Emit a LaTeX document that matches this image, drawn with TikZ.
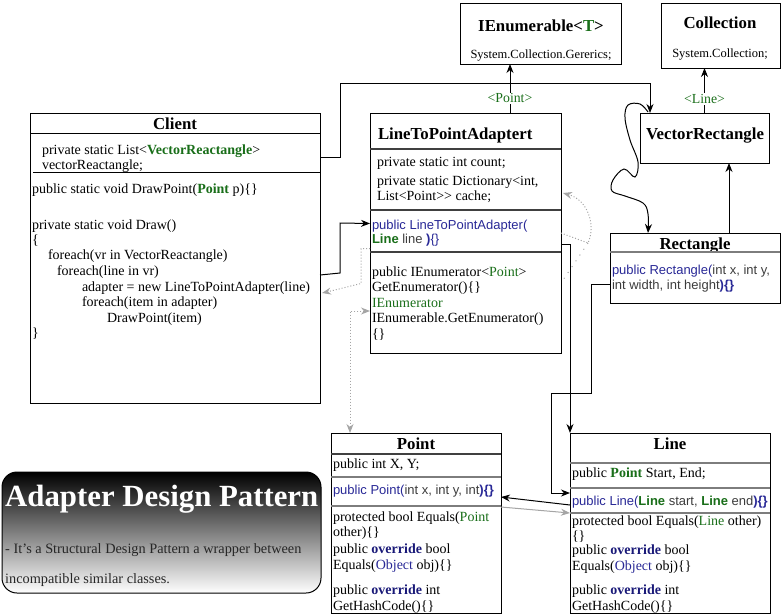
\documentclass[tikz,border=0pt]{standalone}
\usepackage{fontspec}
\setmainfont{Liberation Serif}
\newfontfamily\sansf{Liberation Sans}
\usetikzlibrary{arrows.meta,calc}
\definecolor{gr}{RGB}{25,110,25}
\definecolor{bl}{RGB}{40,40,150}
\definecolor{ov}{RGB}{25,25,120}
\definecolor{pg}{RGB}{60,60,60}
\definecolor{sepc}{RGB}{125,125,125}
\definecolor{lg}{RGB}{165,165,165}
\newcommand\gbf[1]{\textcolor{gr}{\textbf{#1}}}
\newcommand\grn[1]{\textcolor{gr}{#1}}
\newcommand\ovr{\textcolor{ov}{\textbf{override}}}
\newcommand\blu[1]{\textcolor{bl}{#1}}
\begin{document}
\begin{tikzpicture}[x=1pt,y=-1pt,
 box/.style={draw, line width=1pt, anchor=north west, inner sep=0pt, outer sep=0pt},
 tx/.style={anchor=base west, inner sep=0pt, outer sep=0pt, font=\fontsize{14}{16}\selectfont},
 sx/.style={anchor=base west, inner sep=0pt, outer sep=0pt, font=\sansf\fontsize{13}{15}\selectfont, text=pg},
 ttl/.style={anchor=base, inner sep=0pt, outer sep=0pt, font=\bfseries\fontsize{16.8}{19}\selectfont},
 sep/.style={line width=1pt},
 dsep/.style={line width=1.5pt, draw=black!75},
 gsep/.style={line width=2pt, draw=sepc},
 arr/.style={draw, line width=1pt, -{Stealth[length=9pt,width=7pt]}},
 garr/.style={draw=lg, line width=1pt, dotted, -{Stealth[length=9pt,width=7pt]}},
 lbl/.style={fill=white, inner sep=1pt, text=gr, font=\fontsize{13.8}{16}\selectfont}
]
\path[use as bounding box] (0,0) rectangle (782,614);

% boxes
\node[box, minimum width=290pt, minimum height=290pt] (client) at (30,113) {};
\node[box, minimum width=191pt, minimum height=240pt] (ad) at (370,113) {};
\node[box, minimum width=161pt, minimum height=61pt] (ienum) at (460,3) {};
\node[box, minimum width=119pt, minimum height=65pt] (coll) at (661,3) {};
\node[box, minimum width=129pt, minimum height=50pt] (vr) at (640,113) {};
\node[box, minimum width=170pt, minimum height=70pt] (rect) at (610,233) {};
\node[box, minimum width=170pt, minimum height=180pt] (point) at (331,433) {};
\node[box, minimum width=200pt, minimum height=180pt] (line) at (570,433) {};
\node[box, rounded corners=15pt, top color=black, bottom color=white, minimum width=319pt, minimum height=121pt] (note) at (2,472) {};

% Client
\node[ttl] (clientT) at (175,129) {Client};
\draw[sep] (30,133) -- (320,133);
\node[tx] (c1) at (42,154) {private static List<\gbf{VectorReactangle}>};
\node[tx] (c2) at (42,169) {vectorReactangle;};
\draw[sep] (33,172) -- (320,172);
\node[tx] (c3) at (32,193) {public static void DrawPoint(\gbf{Point} p)\{\}};
\node[tx] (c4) at (32,229) {private static void Draw()};
\node[tx] (c5) at (32,244) {\{};
\node[tx] (c6) at (48,259) {foreach(vr in VectorReactangle)};
\node[tx] (c7) at (57,275) {foreach(line in vr)};
\node[tx] (c8) at (82,291) {adapter = new LineToPointAdapter(line)};
\node[tx] (c9) at (82,306) {foreach(item in adapter)};
\node[tx] (c10) at (107,322) {DrawPoint(item)};
\node[tx] (c11) at (32,337) {\}};

% Adapter
\node[ttl, anchor=base west] (adT) at (378,139) {LineToPointAdaptert};
\draw[dsep] (370,149) -- (561,149);
\node[tx] (a1) at (377,166) {private static int count;};
\node[tx] (a2) at (377,185) {private static Dictionary<int,};
\node[tx] (a3) at (377,200) {List<Point>{}> cache;};
\draw[dsep] (370,210) -- (561,210);
\node[sx, text=bl] (a4) at (372,229) {public LineToPointAdapter(};
\node[sx] (a5) at (372,243) {\textcolor{gr}{\textbf{Line}} line \textcolor{bl}{\textbf{)}\{\}}};
\draw[dsep] (370,252) -- (561,252);
\node[tx] (a6) at (372,276) {public IEnumerator<\grn{Point}>};
\node[tx] (a7) at (372,291) {GetEnumerator()\{\}};
\node[tx] (a8) at (372,307) {\grn{IEnumerator}};
\node[tx] (a9) at (372,322) {IEnumerable.GetEnumerator()};
\node[tx] (a10) at (372,338) {\{\}};

% IEnumerable / Collection
\node[ttl] (ieT) at (541,31) {IEnumerable<\textcolor{gr}{T}>};
\node[tx, anchor=base, font=\fontsize{12.5}{14}\selectfont] (ie2) at (541,58) {System.Collection.Gererics;};
\node[ttl] (coT) at (720,28) {Collection};
\node[tx, anchor=base, font=\fontsize{12.5}{14}\selectfont] (co2) at (720,57) {System.Collection;};

% VectorRectangle / Rectangle
\node[ttl] (vrT) at (705,139) {VectorRectangle};
\node[ttl] (rT) at (695,249) {Rectangle};
\draw[gsep] (610,252) -- (780,252);
\node[sx, text=bl] (r1) at (612,274) {public Rectangle(\textcolor{pg}{int x, int y,}};
\node[sx] (r2) at (612,289) {int width, int height\textcolor{bl}{\textbf{)\{\}}}};

% Point
\node[ttl] (pT) at (416,449) {Point};
\draw[dsep] (331,454) -- (501,454);
\node[tx] (p1) at (333,468) {public int X, Y;};
\draw[gsep] (331,477) -- (501,477);
\node[sx, text=bl] (p2) at (333,494) {public Point(\textcolor{pg}{int x, int y, int}\textbf{)\{\}}};
\draw[gsep] (331,506) -- (501,506);
\node[tx] (p3) at (333,521) {protected bool Equals(\grn{Point}};
\node[tx] (p4) at (333,536) {other)\{\}};
\node[tx] (p5) at (333,553) {public \ovr\ bool};
\node[tx] (p6) at (333,569) {Equals(\blu{Object} obj)\{\}};
\node[tx] (p7) at (333,594) {public \ovr\ int};
\node[tx] (p8) at (333,610) {GetHashCode()\{\}};

% Line
\node[ttl] (lT) at (670,449) {Line};
\draw[gsep] (570,463) -- (770,463);
\node[tx] (l1) at (572,477) {public \gbf{Point} Start, End;};
\draw[gsep] (570,488) -- (770,488);
\node[sx, text=bl] (l2) at (572,505) {public Line(\textcolor{gr}{\textbf{Line}} \textcolor{pg}{start,} \textcolor{gr}{\textbf{Line}} \textcolor{pg}{end}\textbf{)\{\}}};
\draw[gsep] (570,513) -- (770,513);
\node[tx] (l3) at (572,525) {protected bool Equals(\grn{Line} other)};
\node[tx] (l4) at (572,540) {\{\}};
\node[tx] (l5) at (572,554) {public \ovr\ bool};
\node[tx] (l6) at (572,570) {Equals(\blu{Object} obj)\{\}};
\node[tx] (l7) at (572,594) {public \ovr\ int};
\node[tx] (l8) at (572,610) {GetHashCode()\{\}};

% Note text
\node[anchor=base west, inner sep=0pt, text=white, font=\bfseries\fontsize{30.8}{32}\selectfont] (nT) at (5,506) {Adapter Design Pattern};
\node[anchor=base west, inner sep=0pt, text=black!85, font=\fontsize{14.3}{16}\selectfont] (n1) at (5,553) {- It's a Structural Design Pattern a wrapper between};
\node[anchor=base west, inner sep=0pt, text=black!85, font=\fontsize{14.3}{16}\selectfont] (n2) at (5,583) {incompatible similar classes.};

% connectors
\draw[arr] ($(ad.north)+(44.5,0)$) -- node[lbl, pos=0.3] (lblP) {<Point>} ($(ienum.south)+(-30.5,0)$);
\draw[arr] (vr.north) -- node[lbl, pos=0.31] (lblL) {<Line>} (vr.north |- coll.south);
\draw[arr] ([yshift=-44pt]client.north east) -- ++(20,0) -- ++(0,-74) -| ($(vr.north west)+(10,0)$);
\draw[arr] ($(rect.north)+(34,0)$) -- ($(vr.south)+(24.5,0)$);
\draw[arr] plot[smooth, tension=0.6] coordinates {($(vr.north west)+(8,-1)$) (640,104) (628,105) (625,118) (630,140) (638,162) (635,177) (624,169) (613,180) (612,191) (625,196) (643,203) (648,214) ($(rect.north west)+(38,0)$)};
\draw[arr] ($(client.east)+(0,17)$) -- (340,273) -- (340,223) -- ($(ad.west)+(0,-9.5)$);
\draw[arr] ($(ad.east)+(0,11.5)$) -| (line.north west);
\draw[arr] ($(rect.west)+(0,16)$) -- ++(-19,0) -- ++(0,109) -- ++(-40,0) |- ($(line.west)+(0,-30)$);
\draw[arr] ($(line.west)+(0,-18)$) -- ($(point.east)+(0,-26)$);
\draw[garr, solid] ($(point.east)+(0,-16)$) -- ($(line.west)+(0,-10)$);
\draw[garr, {Stealth[length=9pt,width=7pt]}-{Stealth[length=9pt,width=7pt]}] ($(ad.west)+(0,78)$) -| ($(point.north west)+(19,0)$);
\draw[garr] ($(ad.west)+(0,15.5)$) -- ++(-9,0) -- ++(0,35) .. controls (345,288) .. ($(client.east)+(2,35)$);
\draw[garr] (ad.east) -- (588,243) .. controls (596,225) and (588,200) .. ($(ad.east)+(2,-40)$);
\draw[draw=lg, line width=1pt, dash pattern=on 1pt off 6pt] (588,243) -- ($(ad.east)+(0,50)$);
\end{tikzpicture}
\end{document}
